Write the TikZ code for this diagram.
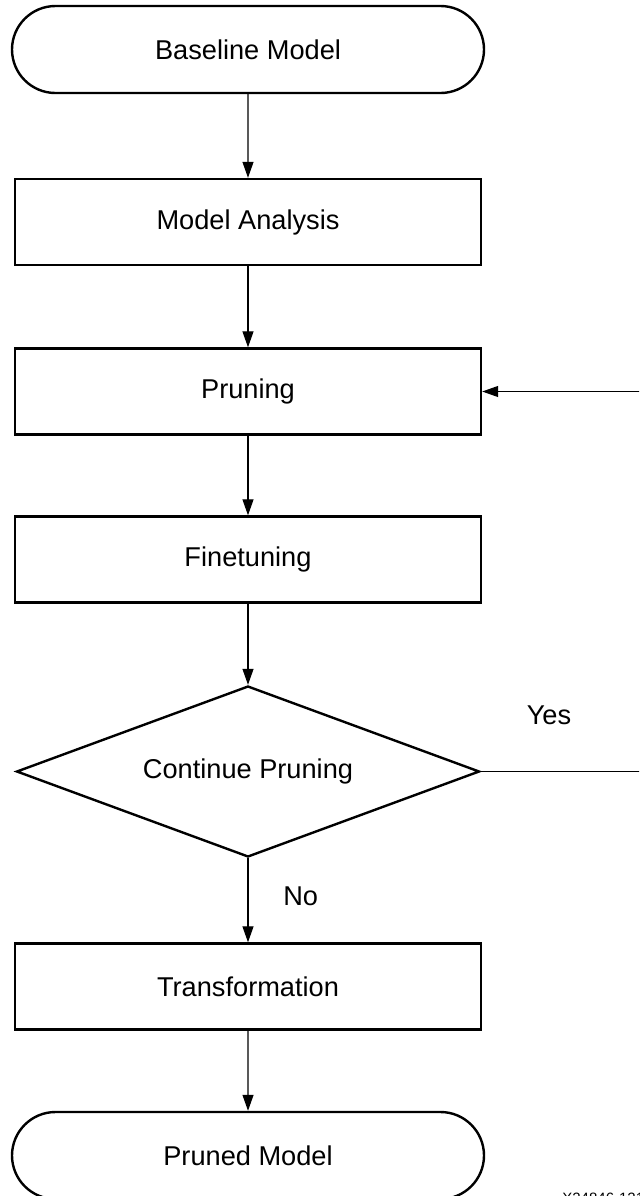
\documentclass[tikz,border=0pt]{standalone}
\usepackage{fontspec}
\setmainfont{Liberation Sans}
\usetikzlibrary{shapes.geometric,shapes.misc,arrows.meta}
\begin{document}
\begin{tikzpicture}[x=0.5pt,y=-0.5pt,
    font=\fontsize{13.6}{16}\selectfont,
    process/.style={draw,line width=1.2pt,rectangle,minimum width=233pt,minimum height=43pt,inner sep=0pt},
    terminal/.style={draw,line width=1.2pt,rounded rectangle,minimum width=236pt,minimum height=43.5pt,inner sep=0pt},
    decision/.style={draw,line width=1.2pt,diamond,aspect=2.7,minimum width=231.5pt,minimum height=85.5pt,inner sep=0pt},
    flow/.style={line width=0.6pt,-{Triangle[length=8pt,width=5.5pt]}}]
\useasboundingbox (0,0) rectangle (639,1196);
\clip (0,0) rectangle (639,1196);
% flow chart nodes
\node[terminal] (base)  at (248,  49.5) {Baseline Model};
\node[process]  (anal)  at (248, 222)   {Model Analysis};
\node[process]  (prune) at (248, 391.5) {Pruning};
\node[process]  (fine)  at (248, 559.5) {Finetuning};
\node[decision] (cont)  at (248, 771.5) {Continue Pruning};
\node[process]  (trans) at (248, 986.5) {Transformation};
\node[terminal] (out)   at (248,1155.5) {Pruned Model};
% main path
\draw[flow] (base) -- (anal);
\draw[flow] (anal) -- (prune);
\draw[flow] (prune) -- (fine);
\draw[flow] (fine) -- (cont);
\draw[flow] (cont) -- node[right=14pt,pos=0.45] {No} (trans);
\draw[flow] (trans) -- (out);
% loop back
\coordinate (loopA) at (641,771.5);
\coordinate (loopB) at (641,391.5);
\draw[flow] (cont.east) -- (loopA) -- (loopB) -- (prune.east);
\node (yes) at (549,715) {Yes};
\node[anchor=base west,inner sep=0pt,font=\fontsize{7.5}{9}\selectfont] (fig) at (562,1203) {X24846-121321};
\end{tikzpicture}
\end{document}
